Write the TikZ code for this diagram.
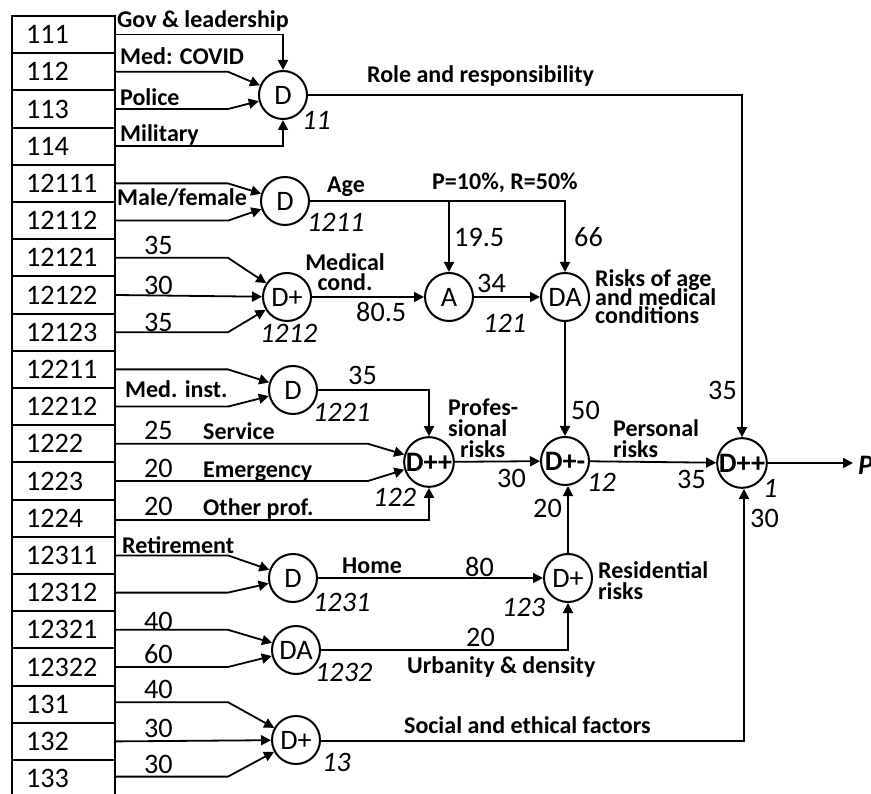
\documentclass[tikz,border=0pt]{standalone}
\usepackage{fontspec}
\setmainfont{Carlito}
\usetikzlibrary{arrows.meta}
\newcommand\fnum{\fontsize{28.2pt}{30pt}\selectfont}
\newcommand\flab{\fontsize{24pt}{21pt}\selectfont\bfseries}
\begin{document}
\begin{tikzpicture}[x=1pt,y=-1pt,
  box/.style={draw, line width=2pt, minimum width=103pt, minimum height=37.2pt, inner sep=0pt, text width=75pt, align=left, font=\fnum},
  gate/.style={circle, draw, line width=2pt, minimum size=48pt, inner sep=0pt, font=\fnum},
  bgate/.style={gate, font=\fnum\bfseries},
  arr/.style={line width=1.8pt, -{Triangle[length=10pt,width=10pt]}},
  ln/.style={line width=1.8pt},
  lab/.style={font=\flab, inner sep=0pt, anchor=base west},
  num/.style={font=\fnum, inner sep=0pt, anchor=base west},
  inum/.style={font=\fnum\itshape, inner sep=0pt, anchor=base west}]
\useasboundingbox (0,0) rectangle (871,794);
% boxes
\foreach \t [count=\k from 0] in {111,112,113,114,12111,12112,12121,12122,12123,12211,12212,1222,1223,1224,12311,12312,12321,12322,131,132,133}
  {\node[box] (b\t) at (63.5,{34.6+37.2*\k}) {\t};}
% gates
\node[gate] (d11) at (283,95) {D};
\node[gate] (d1211) at (285,201) {D};
\node[gate] (d1212) at (287,297) {D+};
\node[gate] (d1221) at (293,390) {D};
\node[gate] (dA) at (449,297) {A};
\node[gate] (dDA) at (565,297) {DA};
\node[bgate] (d122) at (429,462) {D++};
\node[bgate] (d12) at (565,461) {D+-};
\node[bgate] (d1) at (742,463) {D++};
\node[gate] (d1231) at (293,578) {D};
\node[gate] (d123) at (568,578) {D+};
\node[gate] (d1232) at (296,650) {DA};
\node[gate] (d13) at (296,740) {D+};
% connectors into 11
\draw[arr] (b111.east) -| (d11.north);
\draw[arr] (b112.east) -- ++(112,0) -- (d11);
\draw[arr] (b113.east) -- ++(112,0) -- (d11);
\draw[arr] (b114.east) -| (d11.south);
% 1211
\draw[arr] (b12111.east) -- ++(112,0) -- (d1211);
\draw[arr] (b12112.east) -- ++(112,0) -- (d1211);
% 1212
\draw[arr] (b12121.east) -- ++(112,0) -- (d1212);
\draw[arr] (b12122.east) -- (d1212);
\draw[arr] (b12123.east) -- ++(112,0) -- (d1212);
% 1221
\draw[arr] (b12211.east) -- ++(112,0) -- (d1221);
\draw[arr] (b12212.east) -- ++(112,0) -- (d1221);
% 122
\draw[arr] (b1222.east) -- ++(252,0) -- (d122);
\draw[arr] (b1223.east) -- ++(252,0) -- (d122);
\draw[arr] ([yshift=-2pt]b1224.east) -| (d122.south);
\draw[arr] (d1221.east) -| (d122.north);
% 1231
\draw[arr] (b12311.east) -- ++(112,0) -- (d1231);
\draw[arr] (b12312.east) -- ++(112,0) -- (d1231);
% 1232
\draw[arr] (b12321.east) -- ++(112,0) -- (d1232);
\draw[arr] (b12322.east) -- ++(112,0) -- (d1232);
% 13
\draw[arr] ([yshift=2pt]b131.east) -- ++(112,0) -- (d13);
\draw[arr] (b132.east) -- (d13);
\draw[arr] ([yshift=2pt]b133.east) -- ++(112,0) -- (d13);
% middle
\draw[arr] (d1211.east) -| (dDA.north);
\draw[arr] (d1211.east -| dA.north) -- (dA.north);
\draw[arr] (d1212) -- (dA);
\draw[arr] (dA) -- (dDA);
\draw[arr] (dDA.south) -- (d12.north);
\draw[arr] (d122) -- (d12);
\draw[arr] (d123.north) -- (d123.north |- d12.south);
\draw[arr] (d1231) -- (d123);
\draw[arr] (d1232.east) -| (d123.south);
\draw[arr] (d12) -- (d1);
\draw[arr] (d11.east) -| (d1.north);
\draw[arr] ([yshift=-1pt]d13.east) -| ([xshift=2pt]d1.south);
\coordinate (pend) at (853,463);
\draw[arr] (d1.east) -- (pend);
\node[font=\fnum\bfseries\itshape, inner sep=0pt, anchor=base west] (pout) at (858,475) {P};
% bold labels
\node[lab] (l1) at (117,28) {Gov \& leadership};
\node[lab] (l2) at (120,65) {Med: COVID};
\node[lab] (l3) at (120,106) {Police};
\node[lab] (l4) at (120,142) {Military};
\node[lab] (l5) at (117,206) {Male/female};
\node[lab] (l6) at (125,398) {Med. inst.};
\node[lab] (l7) at (203,440) {Service};
\node[lab] (l8) at (203,478) {Emergency};
\node[lab] (l9) at (203,515) {Other prof.};
\node[lab] (l10) at (122,553) {Retirement};
\node[lab] (l11) at (367,83) {Role and responsibility};
\node[lab] (l12) at (327,193) {Age};
\node[lab] (l13) at (432,190) {P=10\%, R=50\%};
\node[lab, anchor=base] (l14a) at (345,271) {Medical};
\node[lab, anchor=base] (l14b) at (345,291) {cond.};
\node[lab] (l15a) at (595,287) {Risks of age};
\node[lab] (l15b) at (595,305.5) {and medical};
\node[lab] (l15c) at (595,324) {conditions};
\node[lab] (l16a) at (448,416) {Profes-};
\node[lab] (l16b) at (448,437) {sional};
\node[lab] (l16c) at (460,458) {risks};
\node[lab] (l17a) at (613,437) {Personal};
\node[lab] (l17b) at (613,458) {risks};
\node[lab] (l18) at (342,573) {Home};
\node[lab] (l19a) at (598,578) {Residential};
\node[lab] (l19b) at (598,599) {risks};
\node[lab] (l20) at (407,673) {Urbanity \& density};
\node[lab] (l21) at (404,733) {Social and ethical factors};
% weights
\node[num] (n1) at (144,255) {35};
\node[num] (n2) at (144,295) {30};
\node[num] (n3) at (144,332) {35};
\node[num] (n4) at (144,440) {25};
\node[num] (n5) at (144,478) {20};
\node[num] (n6) at (144,515) {20};
\node[num] (n7) at (144,630) {40};
\node[num] (n8) at (144,663) {60};
\node[num] (n9) at (144,698) {40};
\node[num] (n10) at (144,737) {30};
\node[num] (n11) at (144,773) {30};
\node[num] (n12) at (454,247) {19.5};
\node[num] (n13) at (574,247) {66};
\node[num] (n14) at (356,322) {80.5};
\node[num] (n15) at (477,293) {34};
\node[num] (n16) at (348,385) {35};
\node[num] (n17) at (497,488) {30};
\node[num] (n18) at (571,420) {50};
\node[num] (n19) at (533,518) {20};
\node[num] (n20) at (677,489) {35};
\node[num] (n21) at (708,400) {35};
\node[num] (n22) at (750,527) {30};
\node[num] (n23) at (465,576) {80};
\node[num] (n24) at (466,646) {20};
% ids
\node[inum] (i1) at (302,130) {11};
\node[inum] (i2) at (307,232) {1211};
\node[inum] (i3) at (260,343) {1212};
\node[inum] (i4) at (483,333) {121};
\node[inum] (i5) at (313,422) {1221};
\node[inum] (i6) at (373,507) {122};
\node[inum] (i7) at (587,492) {12};
\node[inum] (i8) at (763,497) {1};
\node[inum] (i9) at (313,611) {1231};
\node[inum] (i10) at (502,616) {123};
\node[inum] (i11) at (315,681) {1232};
\node[inum] (i12) at (322,771) {13};
\end{tikzpicture}
\end{document}
